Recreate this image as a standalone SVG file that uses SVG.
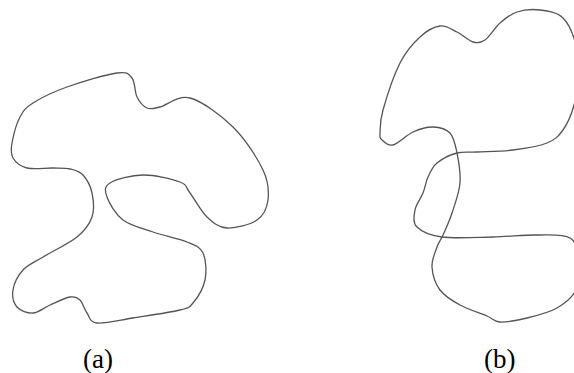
<svg xmlns="http://www.w3.org/2000/svg" width="574" height="373" viewBox="0 0 574 373">
<style>
.curve{fill:none;stroke:#555;stroke-width:1.3;stroke-linejoin:round}
.lbl{font-family:"Liberation Serif","Times New Roman",serif;font-size:27px;fill:#000}
</style>
<rect width="574" height="373" fill="#fff"/>
<g id="curve-a">
<path class="curve" d="M33,103 C40.8,98 53,92 67,87 S106.2,74.5 117,73 S128.7,74 132,78 S134.5,92 137,97 S143.2,106.3 147,108 S152.8,108.7 160,107 S177.8,94.7 190,98 S220.8,115 233,127 S257.2,157.8 263,170 S269,191.7 268,200 S263.8,215.3 257,220 S235.3,228.5 227,228 S213.2,222.8 207,217 S194.5,198.8 190,193 S187.8,185 180,182 S154.7,174.8 143,175 S116,179.3 110,183 S104.8,190.8 107,197 S115.3,214.2 123,220 S142.3,228.3 153,232 S178.7,238.5 187,242 S200,246.7 203,253 S206.7,271.7 205,280 S197.2,298 193,303 S190,307.5 180,310 S146.8,315.8 133,318 S104.7,323.8 97,323 S89.8,316.8 87,313 S82.8,302.7 80,300 S75,296.2 70,297 S56.2,302.3 50,305 S38.5,312.7 33,313 S20.3,310.8 17,307 S12,296.2 13,290 S18,275.5 23,270 S34,262.5 43,257 S68.8,243.7 77,237 S89.5,224.3 92,217 S93.5,200 92,193 S86.7,179 83,175 S75,170.2 70,169 S60.2,168.2 53,168 S33.7,169.7 27,168 S15.5,162.2 13,158 S10.8,149.8 12,143 S16.5,123.7 20,117 S25.2,108 33,103 Z"/>
</g>
<g id="curve-b">
<path class="curve" d="M380,133 C380.2,128 379.7,121.7 383,110 S393.8,75.2 400,63 S413.3,43.2 420,37 S433.8,26.8 440,26 S451.5,29.3 457,32 S468.3,40.7 473,42 S480.5,43.2 485,40 S494.7,27.7 500,23 S510.3,14.2 517,12 S532.3,9 540,10 S557,12.2 563,18 S573.5,35.5 576,45 S578.3,65 578,75 S576.5,95.8 574,105 S567.5,123.7 563,130 S555.3,139.7 547,143 S524.7,148.5 513,150 S486.3,151.5 477,152 S463.7,151.2 457,153 S441.8,159 437,163 S430.3,172 428,177 S425.2,187.5 423,193 S416,204.3 415,210 S412.5,222.5 417,227 S429.3,235.3 442,237 S477.2,237.3 493,237 S524.2,234.8 537,235 S562.8,233.8 570,238 S579,251.3 580,260 S579.8,282 576,290 S565.2,303.3 557,308 S536.5,315.7 527,318 S506.7,322.3 500,322 S493.7,318.8 487,316 S467.8,309.3 460,305 S444.7,296.3 440,290 S432.5,274.2 432,267 S435.2,252.3 437,247 S440.5,240.7 443,235 S449.2,221.7 452,213 S459.2,193 460,183 S458.7,161.3 457,153 S454,137.3 450,133 S439.2,127.2 433,127 S419.7,129 413,132 S398.2,143.7 393,145 S384.2,142 382,140 S379.8,138 380,133 Z"/>
</g>
<g id="labels">
<text class="lbl" x="83" y="368">(a)</text>
<text class="lbl" x="484" y="368">(b)</text>
</g>
</svg>
